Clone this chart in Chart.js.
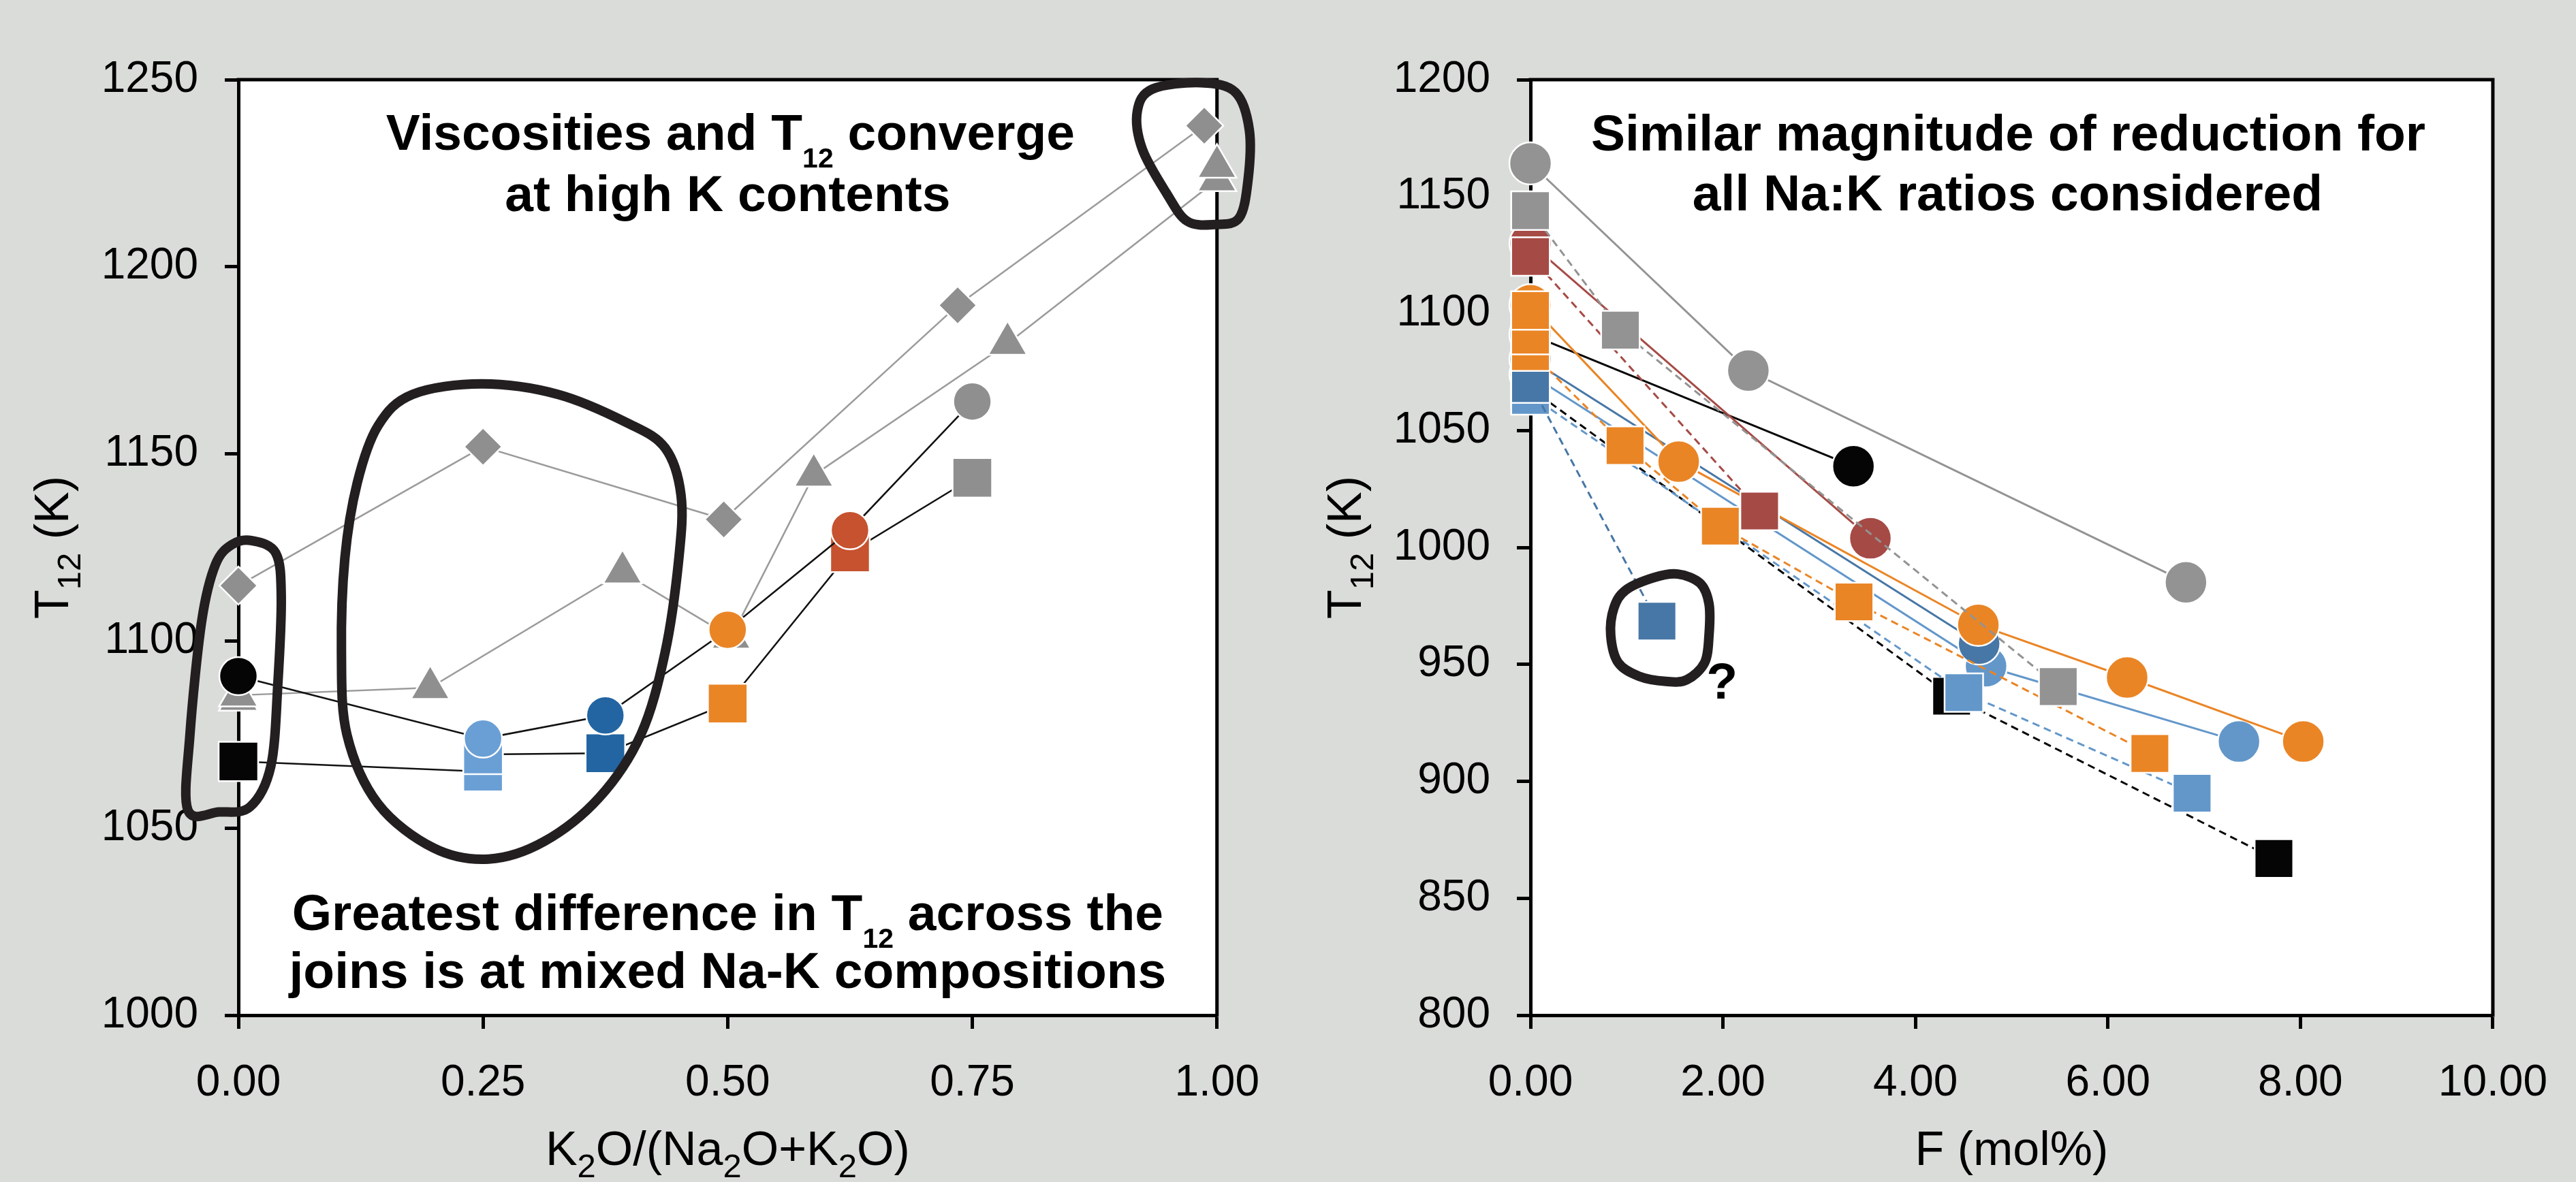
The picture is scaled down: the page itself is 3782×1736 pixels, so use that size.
<!DOCTYPE html>
<html>
<head>
<meta charset="utf-8">
<script src="https://cdn.jsdelivr.net/npm/chart.js@4.4.1/dist/chart.umd.min.js"></script>
<style>
  html, body { margin: 0; padding: 0; background: #dadcd9; }
  #wrap { position: relative; width: 3782px; height: 1736px; overflow: hidden; }
  canvas { position: absolute; top: 0; }
  #kChart { left: 0; }
  #fChart { left: 1891px; }
</style>
</head>
<body>
<div id="wrap">
  <canvas id="kChart" width="1891" height="1736"></canvas>
  <canvas id="fChart" width="1891" height="1736"></canvas>
</div>
<script>
// ---------- left panel: T12 vs K2O/(Na2O+K2O) ----------
const kTicks = [0, 0.25, 0.5, 0.75, 1];
const kT12Ticks = [1000, 1050, 1100, 1150, 1200, 1250];

const kCircleX = [0, 0.25, 0.375, 0.5, 0.625, 0.75];
const kCircleT12 = [1090.6, 1073.9, 1080.1, 1103.0, 1129.6, 1164.0];
const kCircleColors = ['#050505', '#6a9fd5', '#2265a2', '#ea8526', '#c6522f', '#8f8f8f'];

const kSquareX = [0, 0.25, 0.25, 0.375, 0.5, 0.625, 0.75];
const kSquareT12 = [1067.8, 1065.1, 1069.7, 1070.0, 1083.3, 1123.7, 1143.6];
const kSquareColors = ['#050505', '#6a9fd5', '#6a9fd5', '#2265a2', '#ea8526', '#c6522f', '#8f8f8f'];

const kTriangleX = [0, 0, 0.196, 0.3925, 0.5035, 0.588, 0.786, 1.0, 1.0];
const kTriangleT12 = [1084.4, 1085.5, 1087.5, 1118.4, 1101.0, 1144.3, 1179.5, 1223.2, 1226.8];

const kDiamondX = [0, 0.25, 0.496, 0.735, 0.987];
const kDiamondT12 = [1114.8, 1151.9, 1132.5, 1189.7, 1237.7];

// ---------- right panel: T12 vs F (mol%) ----------
const fTicks = [0, 2, 4, 6, 8, 10];
const fT12Ticks = [800, 850, 900, 950, 1000, 1050, 1100, 1150, 1200];

const grayCircleF = [0, 2.264, 6.811];
const grayCircleT12 = [1164.2, 1075.6, 985.1];
const graySquareF = [0, 0.934, 5.484];
const graySquareT12 = [1144.0, 1092.9, 940.5];

const redCircleF = [0, 3.532];
const redCircleT12 = [1130.0, 1003.9];
const redSquareF = [0, 2.381];
const redSquareT12 = [1124.4, 1015.6];

const orangeCircleF = [0, 1.54, 4.654, 6.2, 8.03];
const orangeCircleT12 = [1103.6, 1036.7, 966.9, 944.4, 917.0];
const orangeSquareF = [0, 0.983, 1.973, 3.362, 6.436];
const orangeSquareT12 = [1083.7, 1043.5, 1009.1, 976.7, 911.9];
const orangeSquareBaseF = [0, 0];
const orangeSquareBaseT12 = [1090.8, 1101.3];

const blackCircleF = [0, 3.356];
const blackCircleT12 = [1091.0, 1034.7];
const blackSquareF = [0, 4.376, 7.725];
const blackSquareT12 = [1068.0, 936.4, 867.0];

const darkBlueCircleF = [0, 4.662];
const darkBlueCircleT12 = [1080.5, 958.9];
const darkBlueSquareF = [0, 1.314];
const darkBlueSquareT12 = [1070.0, 968.5];

const lightBlueCircleF = [0, 4.734, 7.362];
const lightBlueCircleT12 = [1074.0, 949.2, 917.0];
const lightBlueSquareF = [0, 4.503, 6.875];
const lightBlueSquareT12 = [1065.0, 937.9, 894.9];

const FONT = '"Liberation Sans", Arial, Helvetica, sans-serif';
const FG = '#000';
const LOOP = '#231f20';

function pts(xs, ys) {
  return xs.map((x, i) => ({ x: x, y: ys[i] }));
}

// marker sizes in px (rect side = radius * sqrt(2))
const MARK = { circle: 28, rect: 41, triangle: 33, rectRot: 28 };
const MARK_F = { circle: 31, rect: 40 };

function series(data, opt) {
  return {
    data: data,
    showLine: opt.line !== false,
    borderColor: opt.lineColor || opt.color,
    borderWidth: opt.lineWidth || 3,
    borderDash: opt.dashed ? [11, 7] : [],
    pointStyle: opt.style,
    pointRadius: opt.radius,
    pointBackgroundColor: opt.color,
    pointBorderColor: '#ffffff',
    pointBorderWidth: 2.5,
    order: opt.order,
    clip: false,
    tension: 0
  };
}

// ---------- text helpers ----------
function richParts(str) {
  return str.split(/(_\{[^}]*\})/).filter(s => s.length).map(s =>
    s.startsWith('_{') ? { text: s.slice(2, -1), sub: true } : { text: s, sub: false });
}

function drawRich(ctx, str, x, y, f) {
  const parts = richParts(str);
  const mainFont = f.weight + ' ' + f.size + 'px ' + FONT;
  const subFont = f.weight + ' ' + Math.round(f.size * f.subScale) + 'px ' + FONT;
  let total = 0;
  parts.forEach(p => {
    ctx.font = p.sub ? subFont : mainFont;
    p.w = ctx.measureText(p.text).width;
    total += p.w;
  });
  let cx = x - total / 2;
  ctx.textAlign = 'left';
  ctx.textBaseline = 'alphabetic';
  ctx.fillStyle = FG;
  parts.forEach(p => {
    ctx.font = p.sub ? subFont : mainFont;
    ctx.fillText(p.text, cx, p.sub ? y + f.size * f.subDrop : y);
    cx += p.w;
  });
}

function closedCurve(ctx, p) {
  const n = p.length;
  ctx.moveTo(p[0][0], p[0][1]);
  for (let i = 0; i < n; i++) {
    const p0 = p[(i - 1 + n) % n], p1 = p[i], p2 = p[(i + 1) % n], p3 = p[(i + 2) % n];
    ctx.bezierCurveTo(
      p1[0] + (p2[0] - p0[0]) / 6, p1[1] + (p2[1] - p0[1]) / 6,
      p2[0] - (p3[0] - p1[0]) / 6, p2[1] - (p3[1] - p1[1]) / 6,
      p2[0], p2[1]);
  }
  ctx.closePath();
}

const NOTE_FONT = { size: 75, weight: 'bold', subScale: 0.55, subDrop: 0.34 };
const TITLE_FONT = { size: 70, weight: 'normal', subScale: 0.7, subDrop: 0.26 };

// plot frame, hand-drawn loops, notes and axis titles
const panelNotes = {
  id: 'panelNotes',
  beforeDraw(chart) {
    const { ctx, chartArea: a } = chart;
    ctx.save();
    ctx.fillStyle = '#ffffff';
    ctx.fillRect(a.left, a.top, a.right - a.left, a.bottom - a.top);
    ctx.restore();
  },
  beforeDatasetsDraw(chart) {
    const { ctx, chartArea: a } = chart;
    ctx.save();
    ctx.strokeStyle = FG;
    ctx.lineWidth = 5;
    ctx.beginPath();
    ctx.moveTo(a.left - 2.5, a.top);
    ctx.lineTo(a.right, a.top);
    ctx.lineTo(a.right, a.bottom + 2.5);
    ctx.stroke();
    ctx.restore();
  },
  afterDatasetsDraw(chart, args, opts) {
    const { ctx, chartArea: a, scales } = chart;
    const sx = scales.x, sy = scales.y;
    ctx.save();
    // loops drawn in data units
    ctx.strokeStyle = LOOP;
    ctx.lineWidth = 14;
    ctx.lineJoin = 'round';
    (opts.loops || []).forEach(loop => {
      const p = loop.map(q => [sx.getPixelForValue(q[0]), sy.getPixelForValue(q[1])]);
      ctx.beginPath();
      closedCurve(ctx, p);
      ctx.stroke();
    });
    // markers placed in data units
    (opts.marks || []).forEach(m => {
      drawRich(ctx, m.text, sx.getPixelForValue(m.x), sy.getPixelForValue(m.y), NOTE_FONT);
    });
    // notes placed relative to the plot frame
    const mid = (a.left + a.right) / 2;
    (opts.notes || []).forEach(n => {
      drawRich(ctx, n.text, mid + n.dx, a.top + n.dy, NOTE_FONT);
    });
    // axis titles
    const ymid = (a.top + a.bottom) / 2;
    drawRich(ctx, opts.xTitle, mid + opts.xTitleDx, opts.xTitleY, TITLE_FONT);
    ctx.translate(opts.yTitleX, ymid);
    ctx.rotate(-Math.PI / 2);
    drawRich(ctx, opts.yTitle, 0, 0, TITLE_FONT);
    ctx.restore();
  }
};

function axes(xTicks, yTicks, xFmt, yWidth) {
  const grid = { drawOnChartArea: false, drawTicks: true, tickLength: 20, tickWidth: 5, tickColor: FG };
  const border = { display: true, width: 5, color: FG };
  const tickFont = { family: FONT, size: 64 };
  return {
    x: {
      type: 'linear',
      min: xTicks[0],
      max: xTicks[xTicks.length - 1],
      afterBuildTicks: s => { s.ticks = xTicks.map(v => ({ value: v })); },
      afterFit: s => { s.height = 245; },
      ticks: { font: tickFont, color: FG, padding: 42, maxRotation: 0, autoSkip: false,
               callback: v => v.toFixed(xFmt) },
      grid: grid,
      border: border
    },
    y: {
      type: 'linear',
      min: yTicks[0],
      max: yTicks[yTicks.length - 1],
      afterBuildTicks: s => { s.ticks = yTicks.map(v => ({ value: v })); },
      afterFit: s => { s.width = yWidth; },
      ticks: { font: tickFont, color: FG, padding: 39, autoSkip: false,
               callback: v => String(v) },
      grid: grid,
      border: border
    }
  };
}

Chart.defaults.font.family = FONT;

// left panel
new Chart(document.getElementById('kChart'), {
  type: 'scatter',
  data: {
    datasets: [
      series(pts(kCircleX, kCircleT12), { color: kCircleColors, lineColor: '#111111', lineWidth: 2.5, style: 'circle', radius: MARK.circle, order: 1 }),
      series(pts(kSquareX, kSquareT12), { color: kSquareColors, lineColor: '#111111', lineWidth: 2.5, style: 'rect', radius: MARK.rect, order: 2 }),
      series(pts(kDiamondX, kDiamondT12), { color: '#8f8f8f', lineColor: '#9b9b9b', lineWidth: 2.5, style: 'rectRot', radius: MARK.rectRot, order: 3 }),
      series(pts(kTriangleX, kTriangleT12), { color: '#8f8f8f', lineColor: '#9b9b9b', lineWidth: 2.5, style: 'triangle', radius: MARK.triangle, order: 4 })
    ]
  },
  options: {
    responsive: false,
    animation: false,
    events: [],
    devicePixelRatio: 1,
    layout: { padding: { left: 0, top: 117, right: 97, bottom: 0 } },
    scales: axes(kTicks, kT12Ticks, 2, 350),
    plugins: {
      legend: { display: false },
      tooltip: { enabled: false },
      panelNotes: {
        notes: [
          { text: 'Viscosities and T_{12} converge', dx: 4, dy: 103 },
          { text: 'at high K contents', dx: 0, dy: 193 },
          { text: 'Greatest difference in T_{12} across the', dx: 0, dy: 1249 },
          { text: 'joins is at mixed Na-K compositions', dx: 0, dy: 1334 }
        ],
        loops: [
          [[0.0141, 1126.8], [0.0382, 1123.5], [0.0438, 1112.0], [0.0403, 1088.5], [0.0332, 1066.6],
           [0.012, 1055.7], [-0.0198, 1054.3], [-0.0516, 1054.8], [-0.0495, 1075.0], [-0.0375, 1105.3],
           [-0.0233, 1120.5], [-0.0057, 1125.9]],
          [[0.2488, 1168.7], [0.3265, 1165.9], [0.3972, 1158.3], [0.436, 1151.6], [0.4523, 1139.0],
           [0.4501, 1122.1], [0.436, 1096.9], [0.4113, 1075.0], [0.3689, 1058.2], [0.3124, 1046.4],
           [0.2558, 1041.7], [0.1993, 1044.7], [0.1427, 1056.5], [0.1109, 1075.0], [0.1053, 1096.9],
           [0.1088, 1122.1], [0.1215, 1142.3], [0.1427, 1157.5], [0.178, 1165.9]],
          [[0.9837, 1249.2], [1.019, 1246.6], [1.0331, 1236.5], [1.0317, 1223.1], [1.0225, 1213.0],
           [0.9978, 1211.3], [0.9695, 1212.2], [0.9483, 1219.7], [0.9236, 1231.5], [0.9186, 1241.6],
           [0.9341, 1247.5]]
        ],
        xTitle: 'K_{2}O/(Na_{2}O+K_{2}O)',
        xTitleDx: 0,
        xTitleY: 1711,
        yTitle: 'T_{12} (K)',
        yTitleX: 100
      }
    }
  },
  plugins: [panelNotes]
});

// right panel: solid lines join circles, dashed lines join squares
new Chart(document.getElementById('fChart'), {
  type: 'scatter',
  data: {
    datasets: [
      series(pts(graySquareF, graySquareT12), { color: '#939393', dashed: true, style: 'rect', radius: MARK_F.rect, order: 1 }),
      series(pts(redSquareF, redSquareT12), { color: '#a64a45', dashed: true, style: 'rect', radius: MARK_F.rect, order: 2 }),
      series(pts(orangeSquareBaseF, orangeSquareBaseT12), { color: '#ea8525', line: false, style: 'rect', radius: MARK_F.rect, order: 3 }),
      series(pts(orangeSquareF, orangeSquareT12), { color: '#ea8525', dashed: true, style: 'rect', radius: MARK_F.rect, order: 4 }),
      series(pts(darkBlueSquareF, darkBlueSquareT12), { color: '#4777a6', dashed: true, style: 'rect', radius: MARK_F.rect, order: 5 }),
      series(pts(lightBlueSquareF, lightBlueSquareT12), { color: '#6397ca', dashed: true, style: 'rect', radius: MARK_F.rect, order: 6 }),
      series(pts(blackSquareF, blackSquareT12), { color: '#050505', dashed: true, style: 'rect', radius: MARK_F.rect, order: 7 }),
      series(pts(orangeCircleF, orangeCircleT12), { color: '#ea8525', style: 'circle', radius: MARK_F.circle, order: 8 }),
      series(pts(darkBlueCircleF, darkBlueCircleT12), { color: '#4777a6', style: 'circle', radius: MARK_F.circle, order: 9 }),
      series(pts(lightBlueCircleF, lightBlueCircleT12), { color: '#6397ca', style: 'circle', radius: MARK_F.circle, order: 10 }),
      series(pts(redCircleF, redCircleT12), { color: '#a64a45', style: 'circle', radius: MARK_F.circle, order: 11 }),
      series(pts(blackCircleF, blackCircleT12), { color: '#050505', style: 'circle', radius: MARK_F.circle, order: 12 }),
      series(pts(grayCircleF, grayCircleT12), { color: '#939393', style: 'circle', radius: MARK_F.circle, order: 13 })
    ]
  },
  options: {
    responsive: false,
    animation: false,
    events: [],
    devicePixelRatio: 1,
    layout: { padding: { left: 0, top: 117, right: 92, bottom: 0 } },
    scales: axes(fTicks, fT12Ticks, 2, 356),
    plugins: {
      legend: { display: false },
      tooltip: { enabled: false },
      panelNotes: {
        notes: [
          { text: 'Similar magnitude of reduction for', dx: -5, dy: 104 },
          { text: 'all Na:K ratios considered', dx: -6, dy: 192 }
        ],
        loops: [
          [[1.531, 988.6], [1.762, 984.7], [1.855, 975.9], [1.855, 962.4], [1.809, 950.7], [1.624, 943.4],
           [1.407, 942.7], [1.128, 944.9], [0.912, 950.7], [0.834, 962.4], [0.866, 974.0], [0.989, 981.7],
           [1.283, 987.1]]
        ],
        marks: [{ text: '?', x: 1.99, y: 935.4 }],
        xTitle: 'F (mol%)',
        xTitleDx: 0,
        xTitleY: 1711,
        yTitle: 'T_{12} (K)',
        yTitleX: 107
      }
    }
  },
  plugins: [panelNotes]
});
</script>
</body>
</html>
